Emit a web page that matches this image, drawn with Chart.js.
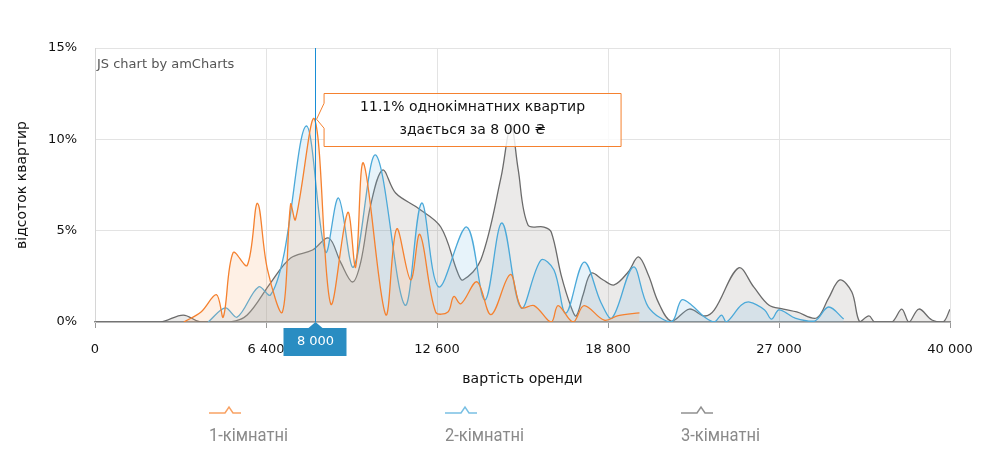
<!DOCTYPE html>
<html>
<head>
<meta charset="utf-8">
<script src="https://cdn.jsdelivr.net/npm/chart.js@4/dist/chart.umd.min.js"></script>
<style>
  html, body { margin: 0; padding: 0; background: #fff; }
  #wrap { width: 987px; height: 466px; position: relative; }
</style>
</head>
<body>
<div id="wrap"><canvas id="rentChart" width="987" height="466"></canvas></div>
<script>
// x = позиція на шкалі вартості (крок шкали), y = відсоток квартир
const rentTickLabels = ['0', '6 400', '12 600', '18 800', '27 000', '40 000'];
const tickStep = 50;

const oneRoomX = [26, 31, 35.5, 37.5, 40.4, 44.5, 47.5, 50.4, 54.8, 57.2, 58.6, 64.2, 68.9, 73.9, 76.2, 78.5, 85, 88.2, 92.3, 95, 99.6, 103.2, 104.9, 107, 111.7, 115.8, 121.4, 124.6, 128.4, 133.4, 135.4, 139.8, 143, 148.9, 153, 159.2];
const oneRoomY = [0, 0.55, 1.5, 0.27, 3.8, 3.1, 6.5, 2.9, 0.55, 6.45, 5.6, 11.1, 1.0, 6.0, 3.0, 8.7, 0.4, 5.1, 2.3, 4.8, 0.55, 0.55, 1.4, 1.0, 2.2, 0.4, 2.6, 0.8, 0.9, 0, 0.9, 0, 0.9, 0.1, 0.35, 0.5];

const twoRoomX = [33.1, 38.1, 41.6, 47.8, 51.3, 55.1, 61.8, 67.4, 71.2, 75.6, 82.1, 90.6, 95.5, 100.5, 108.7, 114, 119, 124.6, 130.4, 134.2, 137.7, 143, 148, 151.2, 157.4, 161.8, 168.5, 171.5, 174.4, 178.2, 181.1, 183.2, 184.6, 189, 191.4, 195.8, 197.8, 199.9, 202.2, 204.6, 210.4, 214.5, 218.9];
const twoRoomY = [0, 0.77, 0.27, 1.92, 1.48, 3.56, 10.73, 3.83, 6.79, 3.01, 9.14, 0.93, 6.51, 1.92, 5.2, 1.2, 5.42, 0.77, 3.39, 2.85, 0.49, 3.28, 1.04, 0.22, 3.01, 0.82, 0, 1.2, 0.93, 0.27, 0, 0.38, 0, 0.93, 1.09, 0.66, 0.16, 0.66, 0.49, 0.22, 0.05, 0.82, 0.16];

const threeRoomX = [0, 19.1, 25.8, 30.8, 39.6, 44.5, 51.3, 57.2, 63.6, 68.3, 71.8, 75.3, 77.7, 80.6, 84.1, 87.9, 94.4, 101.1, 106.1, 107.6, 112.8, 118.7, 121.6, 123.7, 126.6, 131.3, 133.4, 136.3, 139.2, 140.7, 142.7, 145.1, 148.6, 151.8, 155.9, 158.9, 161.8, 164.7, 168.5, 173.8, 178.2, 181.1, 188.2, 192.6, 197, 201.3, 205.2, 211, 214.5, 217.8, 221.3, 223.6, 226.3, 228, 233, 235.9, 238, 240.9, 244.7, 248, 250];
const threeRoomY = [0, 0, 0.38, 0, 0, 0.38, 2.13, 3.5, 3.94, 4.6, 3.28, 2.19, 3.28, 6.4, 8.32, 7.06, 6.24, 5.2, 2.68, 2.3, 3.39, 7.9, 10.8, 8.4, 5.31, 5.2, 4.93, 2.57, 0.82, 0.33, 1.48, 2.68, 2.3, 2.03, 2.74, 3.56, 2.57, 1.09, 0.05, 0.71, 0.33, 0.66, 2.96, 1.92, 0.93, 0.71, 0.55, 0.22, 1.31, 2.3, 1.64, 0, 0.33, 0, 0, 0.71, 0, 0.71, 0.11, 0, 0.7];

const seriesNames = ['1-кімнатні', '2-кімнатні', '3-кімнатні'];
const seriesColors = ['#f5812f', '#4ba9d9', '#6b6b6b'];
const seriesFills = ['rgba(252,170,110,0.18)', 'rgba(120,190,230,0.18)', 'rgba(120,115,105,0.15)'];

// курсор: 8 000 ₴, 11.1% однокімнатних
const cursorX = 64.2;
const cursorLabel = '8 000';
const cursorValue = 11.1;
const tooltipLines = ['11.1% однокімнатних квартир', 'здається за 8 000 ₴'];

const toPoints = (xs, ys) => xs.map((x, i) => ({ x, y: ys[i] }));

const overlayPlugin = {
  id: 'overlay',
  afterDraw(chart) {
    const { ctx, chartArea: ca, scales: { x, y } } = chart;
    ctx.save();

    // напис amCharts
    ctx.font = '13px "DejaVu Sans", Verdana, sans-serif';
    ctx.fillStyle = '#555';
    ctx.textAlign = 'left';
    ctx.textBaseline = 'middle';
    ctx.fillText('JS chart by amCharts', ca.left + 2, 65);

    // підказка (напівпрозора, як в amCharts)
    const px = x.getPixelForValue(cursorX);
    const py = y.getPixelForValue(cursorValue);
    const bx = px + 9.5, by = Math.round(py) - 25.5, bw = 297, bh = 53;
    ctx.fillStyle = 'rgba(255,255,255,0.82)';
    ctx.strokeStyle = '#f5812f';
    ctx.lineWidth = 1;
    ctx.beginPath();
    ctx.moveTo(bx, by);
    ctx.lineTo(bx + bw, by);
    ctx.lineTo(bx + bw, by + bh);
    ctx.lineTo(bx, by + bh);
    ctx.lineTo(bx, py + 9);
    ctx.lineTo(px + 2, py);
    ctx.lineTo(bx, py - 16);
    ctx.closePath();
    ctx.fill();
    ctx.stroke();
    ctx.fillStyle = '#111';
    ctx.textAlign = 'center';
    ctx.font = '14px "DejaVu Sans", Verdana, sans-serif';
    ctx.fillText(tooltipLines[0], bx + bw / 2, by + 14);
    ctx.fillText(tooltipLines[1], bx + bw / 2, by + 37);

    // вертикальна лінія курсора
    const cx = Math.round(px) + 0.5;
    ctx.strokeStyle = '#188ed6';
    ctx.lineWidth = 1;
    ctx.beginPath();
    ctx.moveTo(cx, ca.top);
    ctx.lineTo(cx, ca.bottom);
    ctx.stroke();

    // мітка курсора на осі X
    ctx.fillStyle = '#2a8dc2';
    ctx.fillRect(cx - 32, ca.bottom + 6, 63, 28);
    ctx.beginPath();
    ctx.moveTo(cx - 7, ca.bottom + 6);
    ctx.lineTo(cx, ca.bottom);
    ctx.lineTo(cx + 7, ca.bottom + 6);
    ctx.fill();
    ctx.fillStyle = '#fff';
    ctx.font = '13px "DejaVu Sans", Verdana, sans-serif';
    ctx.fillText(cursorLabel, cx, ca.bottom + 20);

    // легенда
    const legendX = [209, 445, 681];
    seriesNames.forEach((name, i) => {
      const lx = legendX[i], ly = 413;
      ctx.strokeStyle = seriesColors[i];
      ctx.globalAlpha = 0.75;
      ctx.lineWidth = 1.5;
      ctx.beginPath();
      ctx.moveTo(lx, ly);
      ctx.lineTo(lx + 16, ly);
      ctx.lineTo(lx + 20, ly - 6);
      ctx.lineTo(lx + 24, ly);
      ctx.lineTo(lx + 32, ly);
      ctx.stroke();
      ctx.globalAlpha = 1;
      ctx.save();
      ctx.translate(lx, 436);
      ctx.scale(0.87, 1);
      ctx.fillStyle = '#8a8a8a';
      ctx.textAlign = 'left';
      ctx.font = '19px Roboto, sans-serif';
      ctx.fillText(name, 0, 0);
      ctx.restore();
    });

    ctx.restore();
  }
};

new Chart(document.getElementById('rentChart'), {
  type: 'line',
  data: {
    datasets: [
      { label: seriesNames[0], data: toPoints(oneRoomX, oneRoomY), borderColor: seriesColors[0], backgroundColor: seriesFills[0], fill: 'origin' },
      { label: seriesNames[1], data: toPoints(twoRoomX, twoRoomY), borderColor: seriesColors[1], backgroundColor: seriesFills[1], fill: 'origin' },
      { label: seriesNames[2], data: toPoints(threeRoomX, threeRoomY), borderColor: seriesColors[2], backgroundColor: seriesFills[2], fill: 'origin' }
    ]
  },
  options: {
    responsive: false,
    animation: false,
    events: [],
    layout: { padding: { top: 48, right: 37, bottom: 76, left: 0 } },
    elements: {
      point: { radius: 0 },
      line: { borderWidth: 1.3, tension: 0.35 }
    },
    plugins: { legend: { display: false }, tooltip: { enabled: false } },
    scales: {
      x: {
        type: 'linear',
        min: 0,
        max: 250,
        afterFit: s => { s.height = 68; },
        ticks: {
          stepSize: tickStep,
          autoSkip: false,
          maxRotation: 0,
          padding: 14,
          color: '#111',
          font: { family: '"DejaVu Sans", Verdana, sans-serif', size: 13 },
          callback: v => rentTickLabels[v / tickStep]
        },
        grid: { color: '#e3e3e3', tickColor: '#999', tickLength: 6 },
        border: { color: '#8c8c8c', width: 1.5 },
        title: {
          display: true,
          text: 'вартість оренди',
          color: '#111',
          font: { family: '"DejaVu Sans", Verdana, sans-serif', size: 14 },
          padding: { top: 0, bottom: 2 }
        }
      },
      y: {
        min: 0,
        max: 15,
        afterFit: s => { s.width = 95; },
        ticks: {
          stepSize: 5,
          padding: 18,
          color: '#111',
          font: { family: '"DejaVu Sans", Verdana, sans-serif', size: 13 },
          callback: v => v + '%'
        },
        grid: { color: '#e3e3e3', drawTicks: false },
        border: { color: '#d6d6d6', width: 1 },
        title: {
          display: true,
          text: 'відсоток квартир',
          color: '#111',
          font: { family: '"DejaVu Sans", Verdana, sans-serif', size: 14 },
          padding: { top: 14, bottom: 0 }
        }
      }
    }
  },
  plugins: [overlayPlugin]
});
</script>
</body>
</html>
